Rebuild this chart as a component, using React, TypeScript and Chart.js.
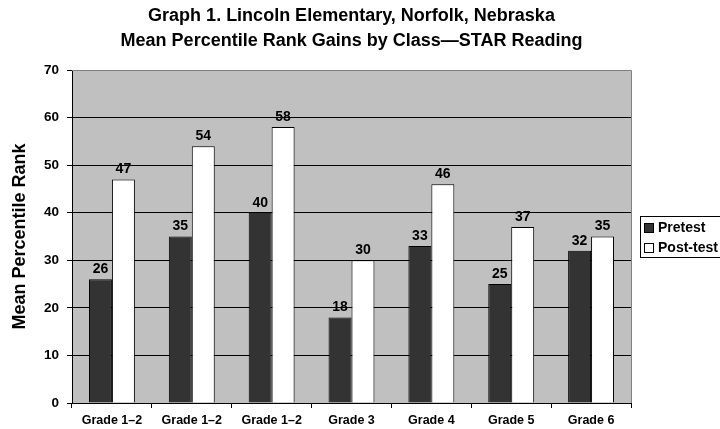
import React, { useEffect, useRef } from "react";
import { Chart, registerables } from "chart.js";

Chart.register(...registerables);

const categories = ["Grade 1\u20132", "Grade 1\u20132", "Grade 1\u20132", "Grade 3", "Grade 4", "Grade 5", "Grade 6"];
const pretest = [26, 35, 40, 18, 33, 25, 32];
const posttest = [47, 54, 58, 30, 46, 37, 35];
const titleLines = ["Graph 1. Lincoln Elementary, Norfolk, Nebraska", "Mean Percentile Rank Gains by Class\u2014STAR Reading"];
const yTitle = "Mean Percentile Rank";
const seriesNames = ["Pretest", "Post-test"];

const FONT = "'Liberation Sans', Arial, Helvetica, sans-serif";

const bgPlugin = {
  id: "plotBg",
  beforeDraw(chart: any) {
    const { ctx, chartArea } = chart;
    ctx.save();
    ctx.fillStyle = "#c0c0c0";
    ctx.fillRect(chartArea.left, chartArea.top, chartArea.right - chartArea.left, chartArea.bottom - chartArea.top);
    ctx.restore();
  },
  afterDatasetsDraw(chart: any) {
    const { ctx, chartArea } = chart;
    ctx.save();
    ctx.strokeStyle = "#808080";
    ctx.lineWidth = 1;
    ctx.beginPath();
    ctx.moveTo(chartArea.left, Math.round(chartArea.top) + 0.5);
    ctx.lineTo(Math.round(chartArea.right) + 0.5, Math.round(chartArea.top) + 0.5);
    ctx.lineTo(Math.round(chartArea.right) + 0.5, chartArea.bottom);
    ctx.stroke();
    // data labels
    ctx.fillStyle = "#000";
    ctx.font = `bold 14px ${FONT}`;
    ctx.textAlign = "center";
    ctx.textBaseline = "bottom";
    chart.data.datasets.forEach((ds: any, i: number) => {
      const meta = chart.getDatasetMeta(i);
      meta.data.forEach((bar: any, j: number) => {
        ctx.fillText(String(ds.data[j]), bar.x, bar.y - 3);
      });
    });
    // legend
    const lx = 640, ly = 216, lw = 90, lh = 41;
    ctx.fillStyle = "#fff";
    ctx.fillRect(lx, ly, lw, lh);
    ctx.strokeStyle = "#000";
    ctx.strokeRect(lx + 0.5, ly + 0.5, lw, lh);
    const colors = ["#333333", "#ffffff"];
    seriesNames.forEach((name, k) => {
      const sy = 223 + k * 20;
      ctx.fillStyle = colors[k];
      ctx.fillRect(644, sy, 9, 9);
      ctx.strokeStyle = "#000";
      ctx.strokeRect(644.5, sy + 0.5, 9, 9);
      ctx.fillStyle = "#000";
      ctx.textAlign = "left";
      ctx.textBaseline = "middle";
      ctx.font = `bold 14px ${FONT}`;
      ctx.fillText(name, 658, sy + 5);
    });
    ctx.restore();
  },
};

export default function App() {
  const ref = useRef<HTMLCanvasElement>(null);
  useEffect(() => {
    document.body.style.margin = "0";
    const chart = new Chart(ref.current!, {
      type: "bar",
      data: {
        labels: categories,
        datasets: [
          { label: seriesNames[0], data: pretest, backgroundColor: "#333333", borderColor: "#000", borderWidth: 1, categoryPercentage: 0.575, barPercentage: 1 },
          { label: seriesNames[1], data: posttest, backgroundColor: "#ffffff", borderColor: "#000", borderWidth: 1, categoryPercentage: 0.575, barPercentage: 1 },
        ],
      },
      options: {
        animation: false,
        responsive: false,
        layout: { padding: { left: 0, right: 89, top: 0, bottom: 0 } },
        plugins: {
          legend: { display: false },
          tooltip: { enabled: false },
          title: {
            display: true,
            fullSize: false,
            text: titleLines,
            color: "#000",
            font: { family: FONT, size: 18, weight: "bold", lineHeight: 1.39 },
            padding: { top: 4, bottom: 16 },
          },
        },
        scales: {
          x: {
            grid: { display: true, drawOnChartArea: false, drawTicks: true, tickLength: 5, color: "#000", offset: true },
            border: { display: true, color: "#000" },
            ticks: { color: "#000", font: { family: FONT, size: 12.5, weight: "bold" }, padding: 5, maxRotation: 0 },
            afterFit(scale: any) { scale.height = 26; },
          },
          y: {
            min: 0,
            max: 70,
            ticks: { stepSize: 10, color: "#000", font: { family: FONT, size: 13.5, weight: "bold" }, padding: 8 },
            grid: {
              color: (c: any) => (c.tick && c.tick.value === 70 ? "#808080" : "#000"),
              tickColor: "#000",
              tickLength: 5,
              drawTicks: true,
            },
            border: { display: true, color: "#000" },
            title: { display: true, text: yTitle, color: "#000", font: { family: FONT, size: 18, weight: "bold" }, padding: { top: 9, bottom: 0 } },
            afterFit(scale: any) { scale.width = 72; },
          },
        },
      },
      plugins: [bgPlugin],
    });
    return () => chart.destroy();
  }, []);
  return (
    <div style={{ width: 720, height: 429 }}>
      <canvas ref={ref} width={720} height={429} style={{ display: "block" }} />
    </div>
  );
}
